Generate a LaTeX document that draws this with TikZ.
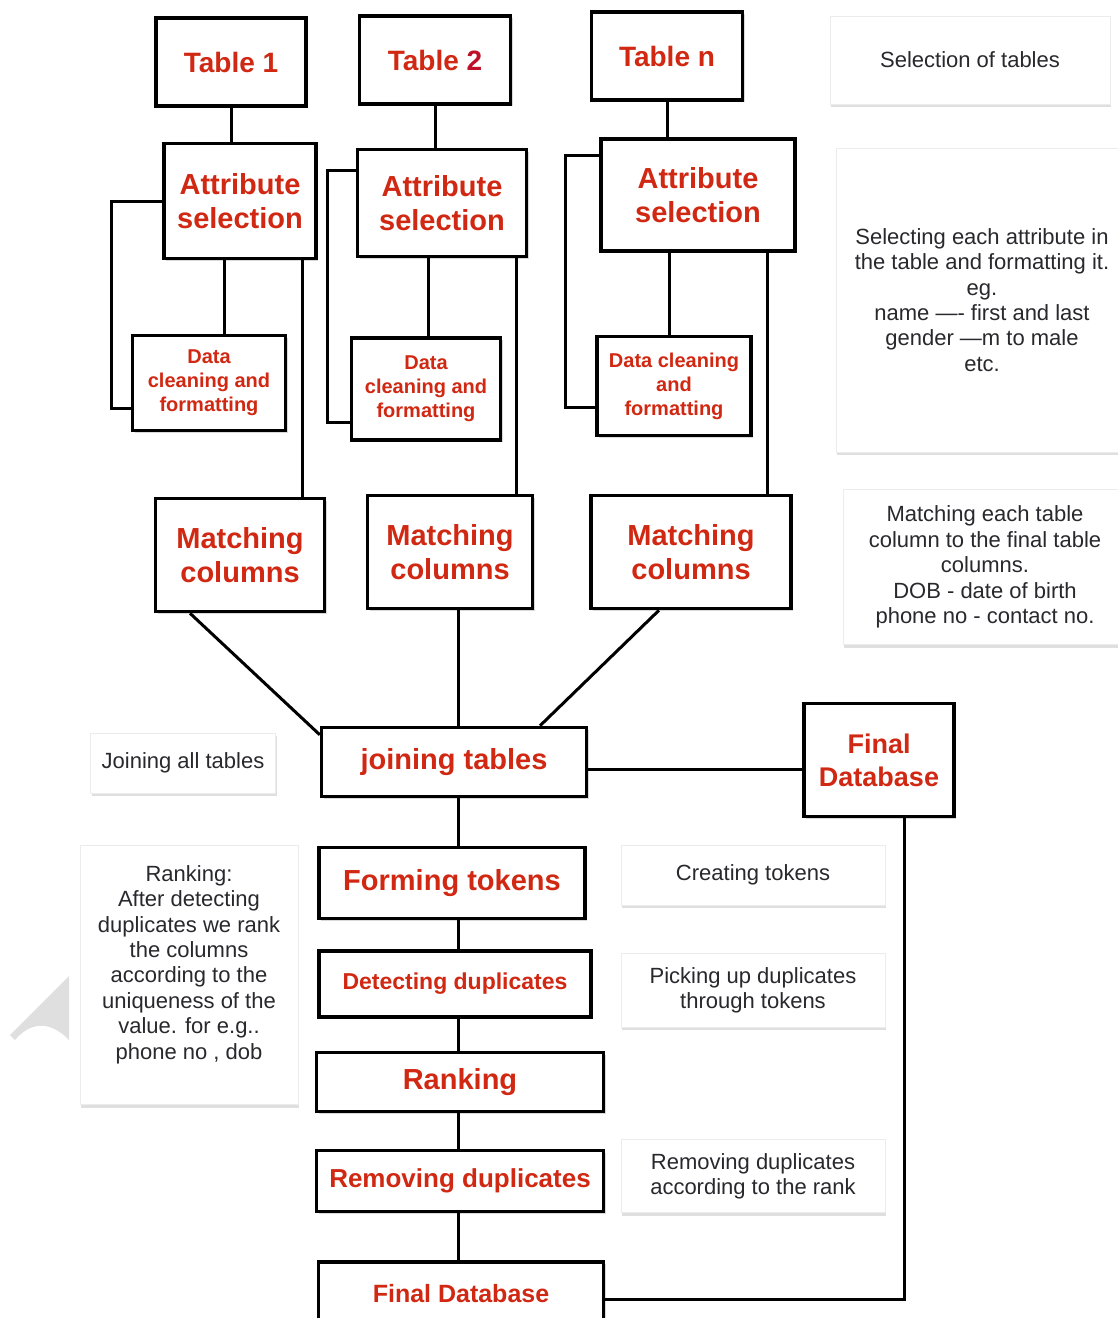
\documentclass[tikz,border=0pt]{standalone}
\usepackage{fontspec}
\setmainfont{Liberation Sans}
\usetikzlibrary{calc,positioning,shadows}
\definecolor{boxred}{RGB}{208,40,18}
\definecolor{twored}{RGB}{190,16,40}
\definecolor{notegray}{RGB}{40,40,45}
\newcommand{\labelsize}[2]{\fontsize{#1}{#2}\selectfont}

\begin{document}
\begin{tikzpicture}[x=1pt,y=-1pt,
	box/.style={draw,line width=3.5pt,fill=white,text=boxred,align=center,inner sep=0pt,
		font=\bfseries\labelsize{29}{34},
		drop shadow={opacity=.3,shadow xshift=2pt,shadow yshift=-2pt}},
	note/.style={draw=gray!15,line width=.8pt,fill=white,text=notegray,align=center,inner sep=0pt,
		font=\labelsize{22}{25.4},
		drop shadow={opacity=.25,shadow xshift=1pt,shadow yshift=-3pt}},
	link/.style={line width=3pt}]
	\useasboundingbox (0,0) rectangle (1118,1318);
	\clip (0,0) rectangle (1118,1318);
	\fill[gray!25] (69,976) -- (10,1035) -- (15,1040) .. controls (30,1022) and (50,1020) .. (69,1040) -- cycle;
	\coordinate (spine) at (458,0);

	% tables
	\node[box,minimum width=150pt,minimum height=88pt,font=\bfseries\labelsize{28}{33}] (tab1) at (231,62) {Table 1};
	\node[box,minimum width=151pt,minimum height=88pt,font=\bfseries\labelsize{28}{33}] (tab2) at (435,60) {Table {\color{twored}2}};
	\node[box,minimum width=151pt,minimum height=88pt,font=\bfseries\labelsize{28}{33}] (tabn) at (667,56) {Table n};
	\node[box,minimum width=152pt,minimum height=115pt] (att1) at (240,201) {Attribute\\selection};
	\node[box,minimum width=169pt,minimum height=107pt] (att2) at (442,203) {Attribute\\selection};
	\node[box,minimum width=194pt,minimum height=112pt] (att3) at (698,195) {Attribute\\selection};
	\node[box,minimum width=153pt,minimum height=95pt,font=\bfseries\labelsize{20}{24}] (dc1) at (209,383) {Data\\cleaning and\\formatting};
	\node[box,minimum width=149pt,minimum height=102pt,font=\bfseries\labelsize{20}{24}] (dc2) at (426,389) {Data\\cleaning and\\formatting};
	\node[box,minimum width=154pt,minimum height=99pt,font=\bfseries\labelsize{20}{24}] (dc3) at (674,386) {Data cleaning\\and\\formatting};
	\node[box,minimum width=169pt,minimum height=113pt] (mat1) at (240,555) {Matching\\columns};
	\node[box,minimum width=165pt,minimum height=113pt] (mat2) at (450,552) {Matching\\columns};
	\node[box,minimum width=200pt,minimum height=113pt] (mat3) at (691,552) {Matching\\columns};

	% main chain
	\node[box,minimum width=265pt,minimum height=69pt] (join) at (454,762) {joining tables};
	\node[box,minimum width=150pt,minimum height=113pt,font=\bfseries\labelsize{27}{33}] (fdb) at (879,760) {Final\\Database};
	\node[box,minimum width=266pt,minimum height=71pt] (form) at (452,883) {Forming tokens};
	\node[box,minimum width=272pt,minimum height=66pt,font=\bfseries\labelsize{23}{27}] (detect) at (455,984) {Detecting duplicates};
	\node[box,minimum width=287pt,minimum height=59pt] (rank) at (460,1082) {Ranking};
	\node[box,minimum width=287pt,minimum height=61pt,font=\bfseries\labelsize{26}{30}] (remove) at (460,1181) {Removing duplicates};
	\node[box,minimum width=285pt,minimum height=64pt,font=\bfseries\labelsize{25}{30}] (final) at (461,1294) {Final Database};

	% notes
	\node[note,minimum width=280pt,minimum height=88pt] (selnote) at (970,60) {Selection of tables};
	\node[note,minimum width=292pt,minimum height=304pt] (attnote) at (982,300) {Selecting each attribute in\\the table and formatting it.\\eg.\\name —- first and last\\gender —m to male\\etc.};
	\node[note,minimum width=284pt,minimum height=155pt] (matnote) at (985,567) {Matching each table\\column to the final table\\columns.\\DOB - date of birth\\phone no - contact no.};
	\node[note,minimum width=185pt,minimum height=60pt] (joinnote) at (183,763) {Joining all tables};
	\node[note,minimum width=218pt,minimum height=259pt] (ranknote) at (189,975) {Ranking:\\After detecting\\duplicates we rank\\the columns\\according to the\\uniqueness of the\\value. for e.g..\\phone no , dob\\~};
	\node[note,minimum width=264pt,minimum height=60pt] (creatnote) at (753,875) {Creating tokens};
	\node[note,minimum width=264pt,minimum height=74pt] (picknote) at (753,990) {Picking up duplicates\\through tokens};
	\node[note,minimum width=264pt,minimum height=73pt] (remnote) at (753,1176) {Removing duplicates\\according to the rank};

	% connectors
	\draw[link] (tab1.south) -- (tab1.south |- att1.north);
	\draw[link] (tab2.south) -- (tab2.south |- att2.north);
	\draw[link] (tabn.south) -- (tabn.south |- att3.north);
	\draw[link] ([xshift=-16pt]att1.south) -- ([xshift=-16pt]att1.south |- dc1.north);
	\draw[link] ([xshift=-14pt]att2.south) -- ([xshift=-14pt]att2.south |- dc2.north);
	\draw[link] ([xshift=-29pt]att3.south) -- ([xshift=-29pt]att3.south |- dc3.north);
	\draw[link] (att1.west) -- ++(-51,0) |- ([yshift=-25pt]dc1.west);
	\draw[link] ([yshift=33pt]att2.west) -- ++(-28,0) |- ([yshift=-33pt]dc2.west);
	\draw[link] ([yshift=40pt]att3.west) -- ++(-34,0) |- ([yshift=-21pt]dc3.west);
	\draw[link] ([xshift=62pt]att1.south) -- ([xshift=62pt]att1.south |- mat1.north);
	\draw[link] ([xshift=74pt]att2.south) -- ([xshift=74pt]att2.south |- mat2.north);
	\draw[link] ([xshift=69pt]att3.south) -- ([xshift=69pt]att3.south |- mat3.north);
	\draw[link] ([xshift=-50pt]mat1.south) -- ([yshift=-9pt]join.north west);
	\draw[link] (mat2.south -| spine) -- (join.north -| spine);
	\draw[link] ([xshift=-32pt]mat3.south) -- ([xshift=86pt]join.north);
	\draw[link] ([yshift=-7pt]join.east) -- ([yshift=-7pt]join.east -| fdb.west);
	\draw[link] (join.south -| spine) -- (form.north -| spine);
	\draw[link] (form.south -| spine) -- (detect.north -| spine);
	\draw[link] (detect.south -| spine) -- (rank.north -| spine);
	\draw[link] (rank.south -| spine) -- (remove.north -| spine);
	\draw[link] (remove.south -| spine) -- (final.north -| spine);
	\draw[link] ([xshift=25pt]fdb.south) |- ([yshift=-5pt]final.east);
\end{tikzpicture}
\end{document}
